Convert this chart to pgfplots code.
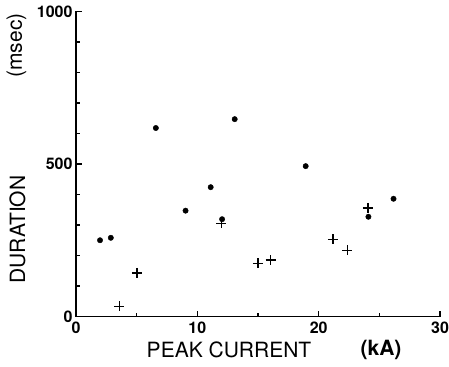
\documentclass[border=0pt]{standalone}
\usepackage{pgfplots}
\pgfplotsset{compat=1.18}
\usepackage{fontspec}
\setmainfont{TeX Gyre Heros}
\begin{document}
\begin{tikzpicture}[x=1pt,y=1pt]
\useasboundingbox (-76,-50) rectangle (373,316.5);
\begin{axis}[
  at={(0,0)}, anchor=south west,
  scale only axis, width=364pt, height=305pt,
  xmin=0, xmax=30, ymin=0, ymax=1000,
  enlargelimits=false, clip=false,
  axis lines=left,
  axis line style={-, line width=1.3pt},
  xtick={0,10,20,30}, minor xtick={5,15,25},
  ytick={0,500,1000}, minor ytick={100,200,...,900},
  tick align=inside, major tick length=6pt, minor tick length=4pt,
  tick style={line width=1.3pt, black},
  ticklabel style={font=\fontsize{16}{16}\selectfont\bfseries},
  xticklabel style={yshift=-2pt},
  /pgf/number format/assume math mode=true,
  /pgf/number format/1000 sep={},
]
\addplot[only marks, mark=*, mark size=2.7pt, black] coordinates {
  (1.98,250) (2.87,258) (6.58,618) (9.03,347) (11.1,424)
  (13.08,647) (18.93,493) (12.04,319) (24.1,327) (26.17,386)
};
\addplot[only marks, mark=+, mark size=5pt, black, mark options={line width=1.6pt}] coordinates {
  (3.58,33) (5.01,143) (11.98,305) (14.99,174) (16.03,185)
  (21.18,253) (22.37,217) (24.05,356)
};
\end{axis}
\node[rotate=90, font=\fontsize{21}{21}\selectfont] at (-58.5,87) {DURATION};
\node[rotate=90, font=\fontsize{21}{21}\selectfont] at (-59.5,271) {(msec)};
\node[font=\fontsize{21}{21}\selectfont] at (153,-33) {PEAK CURRENT};
\node[font=\fontsize{21}{21}\selectfont\bfseries] at (305,-33) {(kA)};
\end{tikzpicture}
\end{document}
